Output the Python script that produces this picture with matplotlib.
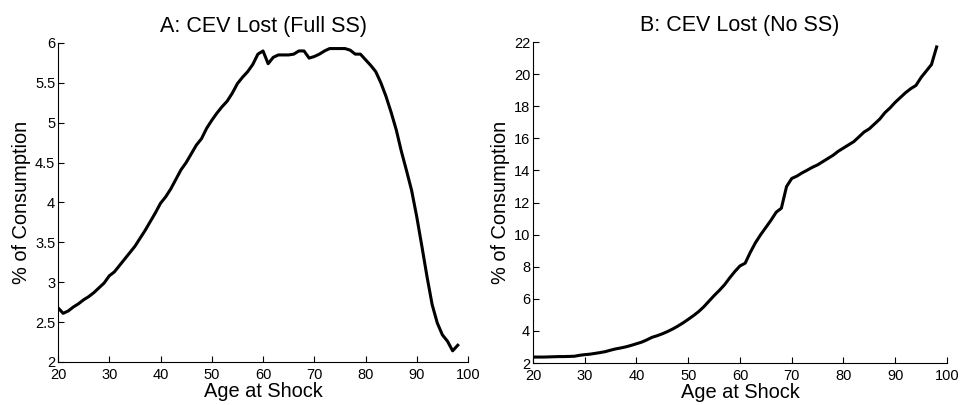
import numpy as np
import matplotlib
matplotlib.use("Agg")
import matplotlib.pyplot as plt

plt.rcParams['font.family'] = ['Liberation Sans', 'DejaVu Sans']

# age at shock, 20..98
ages = list(range(20, 99))

# Panel A: CEV lost, full social security (% of consumption)
cev_full_ss = [2.68, 2.61, 2.64, 2.69, 2.73, 2.78, 2.82, 2.87, 2.93, 2.99,
               3.08, 3.13, 3.21, 3.29, 3.37, 3.45, 3.55, 3.65, 3.76, 3.87,
               3.99, 4.07, 4.17, 4.29, 4.41, 4.50, 4.61, 4.72, 4.80, 4.93,
               5.03, 5.12, 5.20, 5.27, 5.37, 5.49, 5.57, 5.64, 5.73, 5.86,
               5.90, 5.74, 5.82, 5.85, 5.85, 5.85, 5.86, 5.90, 5.90, 5.81,
               5.83, 5.86, 5.90, 5.93, 5.93, 5.93, 5.93, 5.91, 5.86, 5.86,
               5.79, 5.72, 5.64, 5.50, 5.33, 5.13, 4.91, 4.64, 4.40, 4.15,
               3.82, 3.45, 3.07, 2.72, 2.49, 2.34, 2.26, 2.14, 2.21]

# Panel B: CEV lost, no social security (% of consumption)
cev_no_ss = [2.37, 2.37, 2.37, 2.38, 2.39, 2.40, 2.40, 2.41, 2.42, 2.48,
             2.52, 2.55, 2.60, 2.65, 2.71, 2.80, 2.88, 2.94, 3.01, 3.10,
             3.20, 3.30, 3.44, 3.60, 3.70, 3.82, 3.96, 4.12, 4.30, 4.50,
             4.72, 4.95, 5.20, 5.50, 5.85, 6.20, 6.52, 6.87, 7.30, 7.70,
             8.05, 8.22, 8.90, 9.50, 10.00, 10.45, 10.90, 11.40, 11.65, 13.00,
             13.50, 13.65, 13.85, 14.02, 14.20, 14.35, 14.55, 14.75, 14.95, 15.20,
             15.40, 15.60, 15.80, 16.10, 16.40, 16.60, 16.90, 17.20, 17.60, 17.90,
             18.25, 18.55, 18.85, 19.10, 19.30, 19.80, 20.20, 20.60, 21.70]

fig = plt.figure(figsize=(9.62, 4.05), dpi=100)
ax1 = fig.add_axes([0.0603, 0.1062, 0.4262, 0.7877])
ax2 = fig.add_axes([0.554, 0.1037, 0.4304, 0.7923])

panels = [(ax1, cev_full_ss, 'A: CEV Lost (Full SS)', [2, 2.5, 3, 3.5, 4, 4.5, 5, 5.5, 6], (2, 6)),
          (ax2, cev_no_ss, 'B: CEV Lost (No SS)', list(range(2, 23, 2)), (2, 22))]

for ax, vals, title, yticks, ylim in panels:
    ax.plot(ages, vals, color='black', lw=2.2)
    ax.set_xlim(20, 100)
    ax.set_ylim(*ylim)
    ax.set_xticks(range(20, 101, 10))
    ax.set_yticks(yticks)
    ax.set_yticklabels([('%g' % v) for v in yticks])
    ax.spines['top'].set_visible(False)
    ax.spines['right'].set_visible(False)
    ax.spines['left'].set_linewidth(0.8)
    ax.spines['bottom'].set_linewidth(0.8)
    ax.tick_params(direction='in', length=4, width=0.8, labelsize=10.5, pad=2)
    ax.tick_params(axis='x', pad=4)
    ax.set_xlabel('Age at Shock', fontsize=14.4, labelpad=0)
    ax.set_ylabel('% of Consumption', fontsize=14.4, labelpad=3)
    ax.set_title(title, fontsize=15.5, pad=8)

plt.savefig('out.png', dpi=100)
